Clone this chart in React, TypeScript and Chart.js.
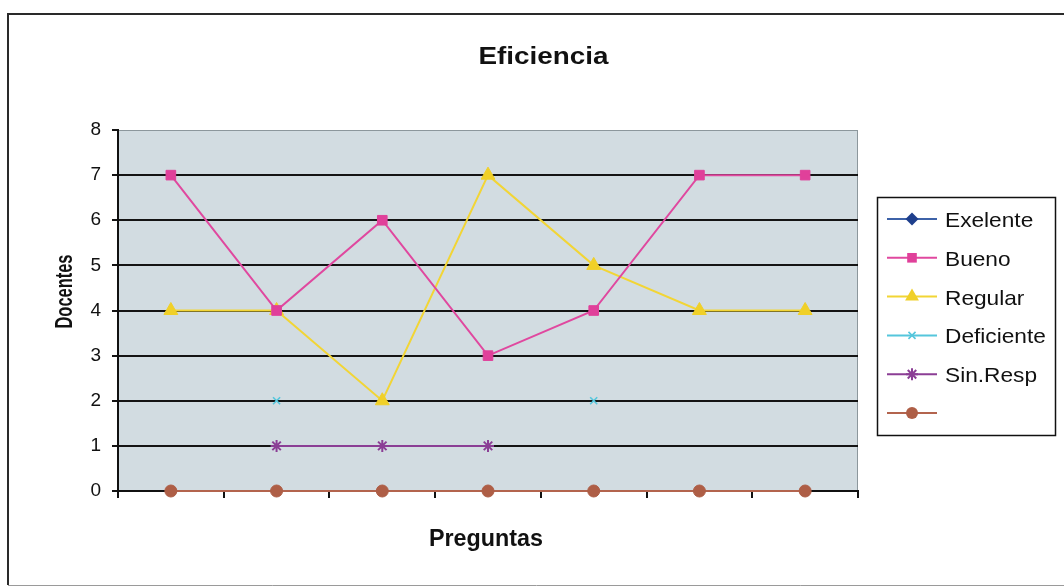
import React, { useEffect, useRef } from 'react';
import { Chart, registerables } from 'chart.js';

Chart.register(...registerables);

// ---------- data ----------
const CATEGORIES = ['Pregunta 1', 'Pregunta 2', 'Pregunta 3', 'Pregunta 4', 'Pregunta 5', 'Pregunta 6', 'Pregunta 7'];
const EXELENTE: (number | null)[] = [null, null, null, null, null, null, null];
const BUENO: (number | null)[] = [7, 4, 6, 3, 4, 7, 7];
const REGULAR: (number | null)[] = [4, 4, 2, 7, 5, 4, 4];
const DEFICIENTE: (number | null)[] = [null, 2, null, null, 2, null, null];
const SIN_RESP: (number | null)[] = [null, 1, 1, 1, null, null, null];
const SIN_NOMBRE: (number | null)[] = [0, 0, 0, 0, 0, 0, 0];
const SERIES_NAMES = ['Exelente', 'Bueno', 'Regular', 'Deficiente', 'Sin.Resp', ''];
const Y_MIN = 0;
const Y_MAX = 8;
const TITLE = 'Eficiencia';
const X_TITLE = 'Preguntas';
const Y_TITLE = 'Docentes';

// ---------- styles ----------
const SERIES_STYLE = [
  { line: '#3d62a8', point: '#1e3f8c', shape: 'rectRot', r: 6.5, bw: 1 },
  { line: '#e0489f', point: '#e0409a', shape: 'rect', r: 6.8, bw: 1 },
  { line: '#f2d535', point: '#f0d028', shape: 'triangle', r: 8, bw: 1 },
  { line: '#55c6dc', point: '#55c6dc', shape: 'crossRot', r: 5, bw: 1.6 },
  { line: '#8b3e95', point: '#8b3e95', shape: 'star', r: 6, bw: 2 },
  { line: '#b3644e', point: '#ae5e46', shape: 'circle', r: 6, bw: 1 },
];

const FONT = '"Liberation Sans", Arial, sans-serif';

function drawMarker(ctx: CanvasRenderingContext2D, shape: string, x: number, y: number, r: number, color: string, bw: number) {
  ctx.save();
  ctx.fillStyle = color;
  ctx.strokeStyle = color;
  ctx.lineWidth = bw;
  ctx.beginPath();
  if (shape === 'circle') {
    ctx.arc(x, y, r, 0, Math.PI * 2);
    ctx.fill();
  } else if (shape === 'rect') {
    const s = r * Math.SQRT1_2;
    ctx.fillRect(x - s, y - s, 2 * s, 2 * s);
  } else if (shape === 'rectRot') {
    ctx.moveTo(x, y - r);
    ctx.lineTo(x + r, y);
    ctx.lineTo(x, y + r);
    ctx.lineTo(x - r, y);
    ctx.closePath();
    ctx.fill();
  } else if (shape === 'triangle') {
    ctx.moveTo(x, y - r);
    ctx.lineTo(x + r * 0.866, y + r * 0.5);
    ctx.lineTo(x - r * 0.866, y + r * 0.5);
    ctx.closePath();
    ctx.fill();
  } else if (shape === 'crossRot' || shape === 'star') {
    const d = r * Math.SQRT1_2;
    ctx.moveTo(x - d, y - d);
    ctx.lineTo(x + d, y + d);
    ctx.moveTo(x - d, y + d);
    ctx.lineTo(x + d, y - d);
    if (shape === 'star') {
      ctx.moveTo(x, y - r);
      ctx.lineTo(x, y + r);
      ctx.moveTo(x - r, y);
      ctx.lineTo(x + r, y);
    }
    ctx.stroke();
  }
  ctx.restore();
}

function drawText(
  ctx: CanvasRenderingContext2D,
  text: string,
  x: number,
  y: number,
  font: string,
  opts: { targetW?: number; sx?: number; rot?: number; align?: CanvasTextAlign }
) {
  ctx.save();
  ctx.font = font;
  ctx.fillStyle = '#111';
  ctx.textAlign = opts.align || 'center';
  ctx.textBaseline = 'alphabetic';
  const w = ctx.measureText(text).width || 1;
  const s = opts.targetW ? opts.targetW / w : opts.sx || 1;
  ctx.translate(x, y);
  if (opts.rot) ctx.rotate(opts.rot);
  ctx.scale(s, 1);
  ctx.fillText(text, 0, 0);
  ctx.restore();
}

const decorPlugin = {
  id: 'decor',
  beforeDraw(chart: any) {
    const ctx: CanvasRenderingContext2D = chart.ctx;
    const a = chart.chartArea;
    ctx.save();
    ctx.fillStyle = '#ffffff';
    ctx.fillRect(0, 0, chart.width, chart.height);
    // outer frame
    ctx.strokeStyle = '#2a2a2a';
    ctx.lineWidth = 2;
    ctx.beginPath();
    ctx.moveTo(1100, 14);
    ctx.lineTo(8, 14);
    ctx.lineTo(8, 585);
    ctx.stroke();
    ctx.strokeStyle = '#9a9a9a';
    ctx.lineWidth = 1;
    ctx.beginPath();
    ctx.moveTo(8, 585.5);
    ctx.lineTo(1100, 585.5);
    ctx.stroke();
    // plot area
    ctx.fillStyle = '#d2dce1';
    ctx.fillRect(a.left, a.top, a.right - a.left, a.bottom - a.top);
    ctx.strokeStyle = '#8c979c';
    ctx.lineWidth = 1;
    ctx.strokeRect(a.left + 0.5, a.top + 0.5, a.right - a.left - 1, a.bottom - a.top - 1);
    ctx.restore();
  },
  afterDraw(chart: any) {
    const ctx: CanvasRenderingContext2D = chart.ctx;
    const a = chart.chartArea;
    // titles
    drawText(ctx, TITLE, 543.5, 64, `bold 23px ${FONT}`, { targetW: 130 });
    drawText(ctx, X_TITLE, (a.left + a.right) / 2 - 2, 546, `bold 23px ${FONT}`, { targetW: 114 });
    drawText(ctx, Y_TITLE, 72, (a.top + a.bottom) / 2 - 19, `bold 24px ${FONT}`, { targetW: 74, rot: -Math.PI / 2 });

    // legend
    ctx.save();
    ctx.strokeStyle = '#111';
    ctx.lineWidth = 1.5;
    ctx.strokeRect(877.5, 197.5, 178, 238);
    ctx.restore();
    const ds = chart.data.datasets;
    ds.forEach((d: any, i: number) => {
      const st = SERIES_STYLE[i];
      const y = 219 + i * 38.8;
      ctx.save();
      ctx.strokeStyle = st.line;
      ctx.lineWidth = 2;
      ctx.beginPath();
      ctx.moveTo(887, y);
      ctx.lineTo(937, y);
      ctx.stroke();
      ctx.restore();
      drawMarker(ctx, st.shape, 912, y, st.r, st.point, st.bw);
      if (d.label) {
        drawText(ctx, d.label, 945, y + 8, `21px ${FONT}`, { sx: 1.08, align: 'left' });
      }
    });
  },
};

export default function App() {
  const canvasRef = useRef<HTMLCanvasElement | null>(null);

  useEffect(() => {
    const canvas = canvasRef.current;
    if (!canvas) return;
    const seriesData = [EXELENTE, BUENO, REGULAR, DEFICIENTE, SIN_RESP, SIN_NOMBRE];
    const datasets = seriesData.map((data, i) => {
      const st = SERIES_STYLE[i];
      return {
        label: SERIES_NAMES[i],
        data,
        borderColor: st.line,
        backgroundColor: st.point,
        borderWidth: 2,
        pointStyle: st.shape,
        pointRadius: st.r,
        pointBorderColor: st.point,
        pointBackgroundColor: st.point,
        pointBorderWidth: st.bw,
        pointHoverRadius: st.r,
        spanGaps: false,
        tension: 0,
        clip: false as any,
      };
    });

    const chart = new Chart(canvas, {
      type: 'line',
      data: { labels: CATEGORIES, datasets: datasets as any },
      options: {
        responsive: false,
        animation: false,
        events: [],
        layout: { padding: { top: 130, right: 206, bottom: 0, left: 0 } },
        plugins: {
          legend: { display: false },
          title: { display: false },
          tooltip: { enabled: false },
        },
        scales: {
          x: {
            type: 'category',
            offset: true,
            grid: {
              offset: true,
              drawOnChartArea: false,
              drawTicks: true,
              tickLength: 7,
              color: '#111',
              tickColor: '#111',
              tickWidth: 2,
              lineWidth: 2,
            },
            border: { display: true, color: '#111', width: 2 },
            ticks: { display: false },
            afterFit: (scale: any) => {
              scale.height = 96;
            },
          },
          y: {
            min: Y_MIN,
            max: Y_MAX,
            ticks: {
              stepSize: 1,
              padding: 11,
              color: '#111',
              font: { family: FONT, size: 19 },
            },
            grid: {
              drawTicks: true,
              tickLength: 6,
              lineWidth: 2,
              color: (c: any) => (c.tick && c.tick.value === Y_MAX ? 'rgba(0,0,0,0)' : '#141414'),
              tickColor: '#141414',
              tickWidth: 2,
            },
            border: { display: true, color: '#111', width: 2 },
            afterFit: (scale: any) => {
              scale.width = 118;
            },
          },
        },
      },
      plugins: [decorPlugin as any],
    });

    return () => {
      chart.destroy();
    };
  }, []);

  return (
    <div style={{ position: 'fixed', left: 0, top: 0, width: 1064, height: 587, background: '#fff' }}>
      <canvas ref={canvasRef} width={1064} height={587} style={{ width: 1064, height: 587, display: 'block' }} />
    </div>
  );
}
